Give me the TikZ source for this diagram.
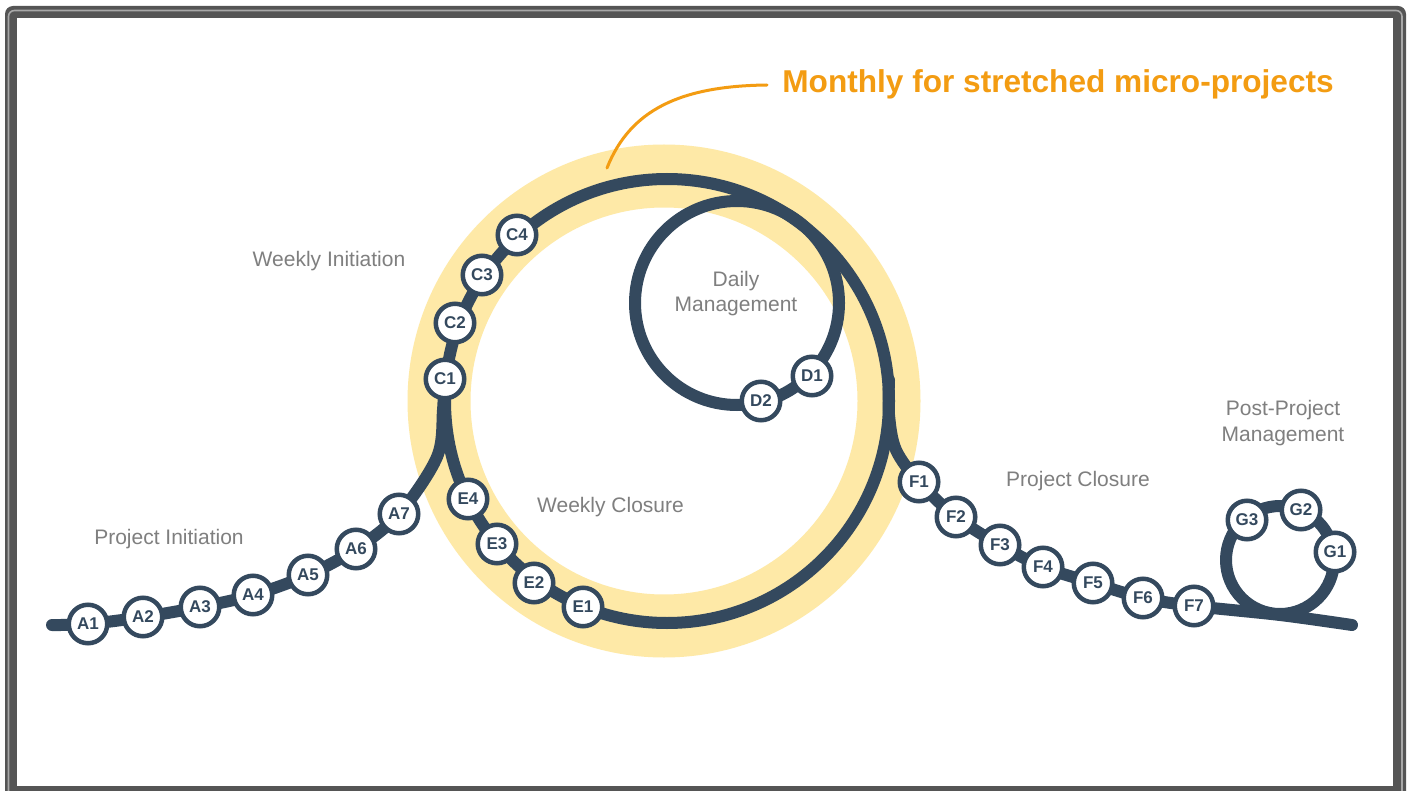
\documentclass[tikz,border=0pt]{standalone}
\usepackage{fontspec}
\setmainfont{Liberation Sans}
\definecolor{dk}{HTML}{34495E}
\definecolor{ring}{HTML}{FEE9A7}
\definecolor{orng}{HTML}{F39C12}
\definecolor{lbl}{HTML}{7F7F7F}
\definecolor{frm}{HTML}{555555}
\definecolor{frmlight}{HTML}{A8A8A8}
\pgfdeclarelayer{bg}
\pgfsetlayers{bg,main}
\begin{document}
\begin{tikzpicture}[x=0.5pt,y=-0.5pt,
  stn/.style={circle,draw=dk,line width=2.25pt,fill=white,minimum size=19.25pt,inner sep=0pt,text=dk,font=\bfseries\fontsize{8.5}{9}\selectfont},
  track/.style={draw=dk,line width=6pt,line cap=round,line join=round},
  lab/.style={text=lbl,font=\fontsize{10.5}{12}\selectfont,anchor=base,inner sep=0pt},
  lead/.style={draw=orng,line width=1.5pt,line cap=round}
]
\useasboundingbox (0,0) rectangle (1407,791);
\begin{pgfonlayer}{bg}
\fill[frm,rounded corners=4pt] (5,820) -- (5,6) -- (1406,6) -- (1406,820) -- cycle;
\draw[frmlight,line width=0.8pt,rounded corners=3pt] (8.5,820) -- (8.5,10.5) -- (1402,10.5) -- (1402,820);
\fill[white] (17,18) rectangle (1393,786);
\draw[ring,line width=31.5pt] (664,401) circle[radius=112.5pt];
\end{pgfonlayer}

% centres and free ends
\coordinate (bigc) at (667,401);
\coordinate (dc) at (737,303);
\coordinate (gc) at (1280,560);
\coordinate (Astart) at (52,625);
\coordinate (Aj1) at (437,457);
\coordinate (Aj2) at (443,410);
\coordinate (Aj3) at (444,380);
\coordinate (Fj1) at (889,380);
\coordinate (Fj2) at (889,415);
\coordinate (Fj3) at (896,450);
\coordinate (Fg) at (1280,615);
\coordinate (Fend) at (1352,625);
\coordinate (ldA) at (767,85);
\coordinate (ldB) at (607,168);

% stations
\node[stn] (A1) at (88,624) {A1};
\node[stn] (A2) at (143,617) {A2};
\node[stn] (A3) at (200,607) {A3};
\node[stn] (A4) at (253,595) {A4};
\node[stn] (A5) at (308,575) {A5};
\node[stn] (A6) at (356,549) {A6};
\node[stn] (A7) at (399,514) {A7};
\node[stn] (C1) at (445,379) {C1};
\node[stn] (C2) at (455,323) {C2};
\node[stn] (C3) at (482,275) {C3};
\node[stn] (C4) at (517,235) {C4};
\node[stn] (E4) at (468,499) {E4};
\node[stn] (E3) at (497,544) {E3};
\node[stn] (E2) at (534,583) {E2};
\node[stn] (E1) at (583,607) {E1};
\node[stn] (D1) at (812,376) {D1};
\node[stn] (D2) at (761,401) {D2};
\node[stn] (F1) at (919,482) {F1};
\node[stn] (F2) at (956,517) {F2};
\node[stn] (F3) at (1000,545) {F3};
\node[stn] (F4) at (1043,567) {F4};
\node[stn] (F5) at (1093,583) {F5};
\node[stn] (F6) at (1143,598) {F6};
\node[stn] (F7) at (1194,606) {F7};
\node[stn] (G1) at (1335,552) {G1};
\node[stn] (G2) at (1301,510) {G2};
\node[stn] (G3) at (1247,520) {G3};

% labels
\node[lab] (wi) at (329,266.5) {Weekly Initiation};
\node[lab] (pi) at (169,544) {Project Initiation};
\node[lab] (wc) at (610.5,512.5) {Weekly Closure};
\node[lab] (pc) at (1078,486.5) {Project Closure};
\node[lab] (dm1) at (736,286.5) {Daily};
\node[lab] (dm2) at (736,311.5) {Management};
\node[lab] (pp1) at (1283,415) {Post-Project};
\node[lab] (pp2) at (1283,441) {Management};
\node[anchor=base west,inner sep=0pt,text=orng,font=\bfseries\fontsize{15.8}{18}\selectfont] (title) at (782,93) {Monthly for stretched micro-projects};

\begin{pgfonlayer}{bg}
\draw[lead] (ldA) .. controls (680,86) and (630,110) .. (ldB);
\draw[track] (bigc) circle[radius=111pt];
\draw[track] (dc) circle[radius=51pt];
\draw[track] (gc) circle[radius=27pt];
\draw[track] plot[smooth,tension=0.55] coordinates {(Astart) (A1.center) (A2.center) (A3.center) (A4.center) (A5.center) (A6.center) (A7.center) (Aj1) (Aj2) (Aj3)};
\draw[track] plot[smooth,tension=0.55] coordinates {(Fj1) (Fj2) (Fj3) (F1.center) (F2.center) (F3.center) (F4.center) (F5.center) (F6.center) (F7.center) (Fg) (Fend)};
\end{pgfonlayer}
\end{tikzpicture}
\end{document}
